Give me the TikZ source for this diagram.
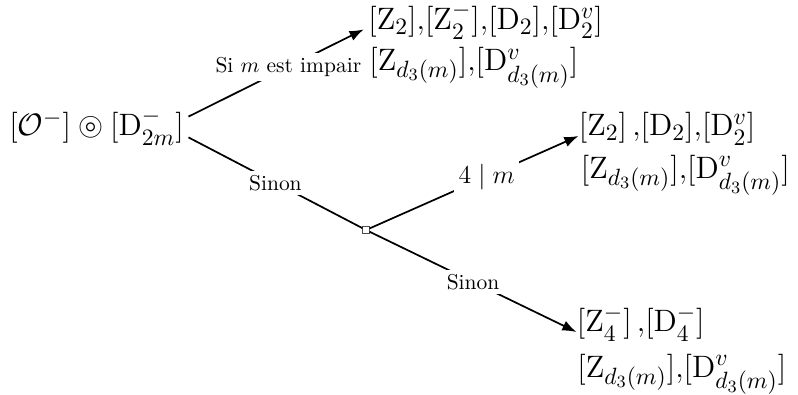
\documentclass[tikz,border=0pt]{standalone}
\usepackage{amsmath,amssymb}
\usepackage{tikz}
\usetikzlibrary{arrows.meta}

\begin{document}
\begin{tikzpicture}[x=1cm,y=1cm,every node/.style={font=\normalsize},
  big/.style={font=\fontsize{15.2}{18}\selectfont},
  grp/.style={big,inner sep=0pt,anchor=base west},
  cond/.style={fill=white,inner sep=2pt},
  branch/.style={thick}]
\useasboundingbox (0,0) rectangle (13.045,6.441);
\node[big,inner sep=2pt] (root) at (1.578,4.365) {$[\mathcal{O}^-] \circledcirc [\mathrm{D}_{2m}^-]$};
\node[draw=black!70,fill=white,inner sep=0pt,minimum size=3pt] (sq) at (5.983,2.681) {};
% m impair
\node[grp] (t1) at (6.016,5.96) {$[\mathrm{Z}_2]{,}[\mathrm{Z}_2^-]{,}[\mathrm{D}_2]{,}[\mathrm{D}_2^v]$};
\node[grp] (t2) at (6.032,5.29) {$[\mathrm{Z}_{d_3(m)}]{,}[\mathrm{D}^v_{d_3(m)}]$};
% 4 | m
\node[grp] (m1) at (9.457,4.218) {$[\mathrm{Z}_2]\,{,}[\mathrm{D}_2]{,}[\mathrm{D}_2^v]$};
\node[grp] (m2) at (9.489,3.531) {$[\mathrm{Z}_{d_3(m)}]{,}[\mathrm{D}^v_{d_3(m)}]$};
% sinon
\node[grp] (b1) at (9.424,1.014) {$[\mathrm{Z}_4^-]\,{,}[\mathrm{D}_4^-]$};
\node[grp] (b2) at (9.432,0.278) {$[\mathrm{Z}_{d_3(m)}]{,}[\mathrm{D}^v_{d_3(m)}]$};
\draw[branch,-{Latex}] ([yshift=0.17cm]root.east) -- node[cond,pos=0.57] {Si $m$ est impair} ([xshift=-2pt]t1.base west);
\draw[branch] ([yshift=-0.17cm]root.east) -- node[cond] {Sinon} (sq);
\draw[branch,-{Latex}] (sq) -- node[cond,pos=0.56,font=\large] {$4 \mid m$} (m1.base west);
\draw[branch,-{Latex}] (sq) -- node[cond] {Sinon} (b1.base west);
\end{tikzpicture}
\end{document}
